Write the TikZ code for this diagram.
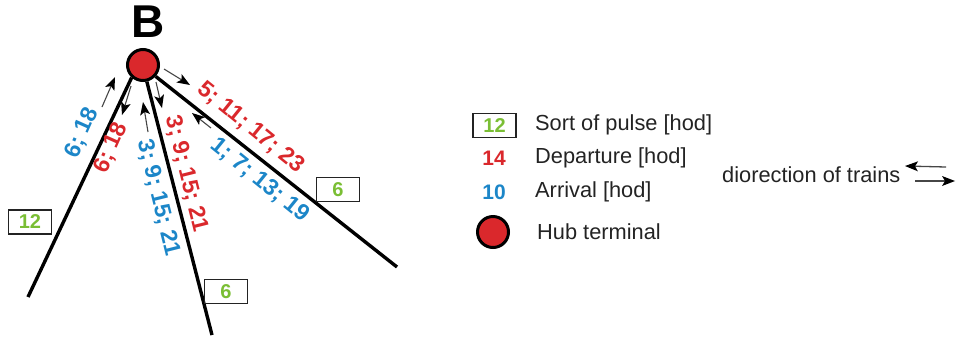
\documentclass[tikz,border=0pt]{standalone}
\usepackage{fontspec}
\setmainfont{Liberation Sans}
\usetikzlibrary{calc}
\definecolor{pulsegreen}{RGB}{122,190,52}
\definecolor{deptred}{RGB}{218,40,44}
\definecolor{arrblue}{RGB}{28,134,200}
\definecolor{inkgray}{RGB}{35,35,35}
\definecolor{shaftgray}{RGB}{70,70,70}
% thin arrow with a solid triangular head: [shaft width]{tail}{tip}
\newcommand{\trainflow}[3][1.1pt]{%
  \coordinate (flowbase) at ($(#3)!13pt!(#2)$);
  \coordinate (flowneck) at ($(#3)!10pt!(#2)$);
  \draw[draw=shaftgray, line width=#1] (#2) -- (flowneck);
  \fill[black] (#3) -- ($(flowbase)!5pt!90:(#3)$) -- (flowneck)
    -- ($(flowbase)!5pt!-90:(#3)$) -- cycle;}
\begin{document}
\begin{tikzpicture}[x=1pt,y=-1pt,
  track/.style={line width=3.4pt, black},
  pulsebox/.style={draw=inkgray, line width=1.6pt, minimum width=43pt,
    minimum height=24pt, inner sep=0pt, text=pulsegreen,
    font=\fontsize{20}{20}\selectfont\bfseries},
  hubdot/.style={circle, draw=black, line width=3pt, fill=deptred,
    minimum size=31pt, inner sep=0pt},
  deplabel/.style={text=deptred, inner sep=0pt,
    font=\fontsize{23}{23}\selectfont\bfseries},
  arrlabel/.style={text=arrblue, inner sep=0pt,
    font=\fontsize{23}{23}\selectfont\bfseries},
  legendtext/.style={anchor=west, inner sep=0pt, text=inkgray,
    font=\fontsize{21.8}{22}\selectfont},
  legendnum/.style={inner sep=0pt, font=\fontsize{21}{21}\selectfont\bfseries}
]
\useasboundingbox (0,0) rectangle (957,338);

% hub and its name
\node[hubdot] (hub) at (143,65) {};
\node[inner sep=0pt, font=\fontsize{46}{46}\selectfont\bfseries] (hubname) at (148,22) {B};

% track ends
\coordinate (endA) at (28,297);
\coordinate (endB) at (212,335);
\coordinate (endC) at (397,267);

% tracks
\draw[track] (hub.228) -- (endA);
\draw[track] (hub.283) -- (endB);
\draw[track] (hub.318) -- (endC);

% pulse boxes
\node[pulsebox] (pulseA) at (30,222) {12};
\node[pulsebox] (pulseB) at (226,291.5) {6};
\node[pulsebox] (pulseC) at (338,189.5) {6};

% timetables along track A
\node[arrlabel, rotate=66] (arrA) at (82,133) {6; 18};
\node[deplabel, rotate=66] (depA) at (111,148) {6; 18};
% timetables along track B
\node[arrlabel, rotate=-76] (arrB) at (158,198) {3; 9; 15; 21};
\node[deplabel, rotate=-76] (depB) at (186,174) {3; 9; 15; 21};
% timetables along track C
\node[deplabel, rotate=-39] (depC) at (251,128) {5; 11; 17; 23};
\node[arrlabel, rotate=-39] (arrC) at (260,180) {1; 7; 13; 19};

% train directions
\coordinate (a1s) at (102,107); \coordinate (a1e) at (115,77);
\coordinate (a2s) at (131,86);  \coordinate (a2e) at (122,115);
\coordinate (a3s) at (148,132); \coordinate (a3e) at (143,102);
\coordinate (a4s) at (156,82);  \coordinate (a4e) at (162,108);
\coordinate (a5s) at (164,69);  \coordinate (a5e) at (190,85);
\coordinate (a6s) at (211,128); \coordinate (a6e) at (192,113);
\trainflow{a1s}{a1e}
\trainflow{a2s}{a2e}
\trainflow{a3s}{a3e}
\trainflow{a4s}{a4e}
\trainflow{a5s}{a5e}
\trainflow{a6s}{a6e}

% legend
\node[pulsebox, line width=1.2pt] (keyPulse) at (494.5,125.5) {12};
\node[legendtext] (keyPulseText) at (535,125) {Sort of pulse [hod]};
\node[legendnum, text=deptred] (keyDep) at (494,158) {14};
\node[legendtext] (keyDepText) at (535,158) {Departure [hod]};
\node[legendnum, text=arrblue] (keyArr) at (494,192) {10};
\node[legendtext] (keyArrText) at (535,192) {Arrival [hod]};
\node[hubdot] (keyHub) at (493,232) {};
\node[legendtext] (keyHubText) at (537,232) {Hub terminal};

\node[legendtext] (keyDir) at (722,175) {diorection of trains};
\coordinate (d1s) at (946,167); \coordinate (d1e) at (905,166);
\coordinate (d2s) at (915,181); \coordinate (d2e) at (955,181);
\trainflow[1.3pt]{d1s}{d1e}
\trainflow[1.3pt]{d2s}{d2e}
\end{tikzpicture}
\end{document}
